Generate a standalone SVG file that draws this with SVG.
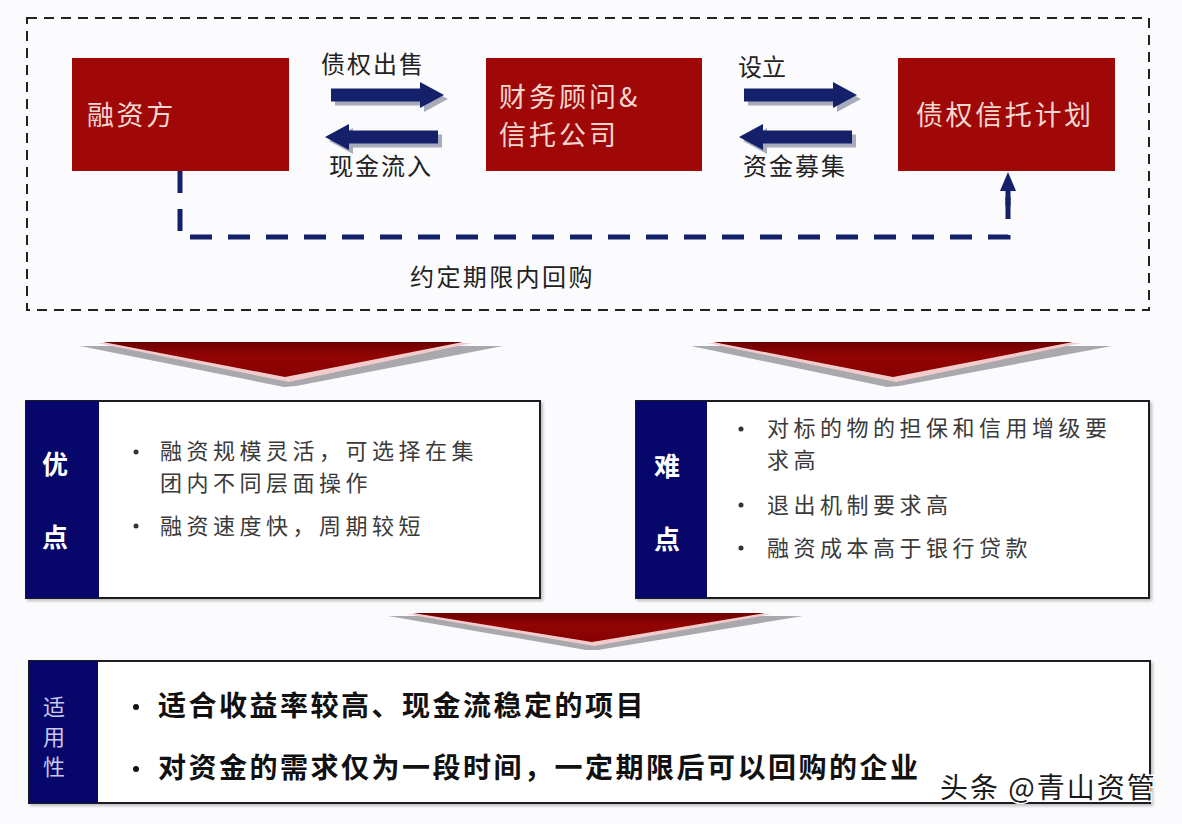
<svg xmlns="http://www.w3.org/2000/svg" width="1182" height="824" viewBox="0 0 1182 824">
<style>
text{font-family:"Noto Sans CJK SC","Noto Sans",sans-serif}
.box{fill:#a00808}
.bt{fill:#f3d8d2;font-size:27px;letter-spacing:2.6px}
.lbl{fill:#222;font-size:24px;letter-spacing:2px}
.nav{fill:#14206a}
.sh{fill:#a8acba}
.panel{fill:#fff;stroke:#1c1c24;stroke-width:2}
.band{fill:#07076b}
.hd{fill:#fff;font-size:26px;font-weight:bold;text-anchor:middle}
.it{fill:#3a3a3a;font-size:22px;letter-spacing:4.5px}
.bi{fill:#111;font-size:28px;font-weight:bold;letter-spacing:2.5px}
.dot{fill:#333}
.sy{fill:#c8c8f0;font-size:22px;text-anchor:middle}
</style>
<defs>
<path id="ra" d="M0,-6.5 H89 V-13 L113,0 L89,13 V6.5 H0 Z"/>
<linearGradient id="rg" x1="0" y1="0" x2="0" y2="1">
<stop offset="0" stop-color="#6e0000"/><stop offset="0.4" stop-color="#920404"/><stop offset="1" stop-color="#880000"/>
</linearGradient>
<filter id="ds" x="-5%" y="-5%" width="110%" height="115%"><feDropShadow dx="2" dy="2" stdDeviation="1.5" flood-color="#000" flood-opacity="0.25"/></filter>
</defs>
<rect width="1182" height="824" fill="#fbfbfd"/>
<rect x="27" y="18" width="1122" height="292" fill="none" stroke="#222" stroke-width="2" stroke-dasharray="10 7"/>

<g id="n-rongzifang">
<rect class="box" x="72" y="58" width="217" height="113"/>
<text class="bt" x="87" y="125">融资方</text>
</g>
<g id="n-caiwuguwen">
<rect class="box" x="486" y="58" width="216" height="113"/>
<text class="bt" style="letter-spacing:3px"><tspan x="499" y="107">财务顾问&amp;</tspan><tspan x="499" y="145">信托公司</tspan></text>
</g>
<g id="n-zhaiquanxintuo">
<rect class="box" x="898" y="58" width="217" height="113"/>
<text class="bt" x="916" y="125">债权信托计划</text>
</g>

<g id="connectors">
<use href="#ra" class="sh" transform="translate(335,99)"/>
<use href="#ra" class="nav" transform="translate(331,95)"/>
<use href="#ra" class="sh" transform="translate(442,141) scale(-1,1)"/>
<use href="#ra" class="nav" transform="translate(438,137) scale(-1,1)"/>
<use href="#ra" class="sh" transform="translate(748,99)"/>
<use href="#ra" class="nav" transform="translate(744,95)"/>
<use href="#ra" class="sh" transform="translate(856,141) scale(-1,1)"/>
<use href="#ra" class="nav" transform="translate(852,137) scale(-1,1)"/>
<path d="M180,171 V237 H1008 V188" fill="none" stroke="#14206a" stroke-width="5" stroke-dasharray="22 16"/>
<path d="M1008,206 V188" fill="none" stroke="#14206a" stroke-width="5"/>
<polygon points="1008,172 1000,191 1016,191" fill="#14206a"/>
</g>

<g id="labels">
<text class="lbl" x="321" y="73">债权出售</text>
<text class="lbl" x="329" y="175">现金流入</text>
<text class="lbl" x="738" y="76" style="letter-spacing:0">设立</text>
<text class="lbl" x="743" y="175">资金募集</text>
<text class="lbl" x="410" y="286" style="letter-spacing:2.4px">约定期限内回购</text>
</g>

<g id="chevrons">
<polygon points="80,346 503,346 296,386 284,387" fill="#a9a9ad"/>
<polygon points="97,343 472,343 289,382" fill="#f2cccc"/>
<polygon points="103,342 463,342 285,377" fill="url(#rg)"/>
<polygon points="691,346 1112,346 899,386 887,387" fill="#a9a9ad"/>
<polygon points="707,343 1081,343 896,382" fill="#f2cccc"/>
<polygon points="713,342 1073,342 893,377" fill="url(#rg)"/>
<polygon points="388,616 803,616 598,650 586,650" fill="#a9a9ad"/>
<polygon points="406,614 772,614 594,646" fill="#f2cccc"/>
<polygon points="413,613 765,613 592,642" fill="url(#rg)"/>
</g>

<g id="n-youdian">
<rect class="panel" x="26" y="401" width="514" height="197" filter="url(#ds)"/>
<rect class="band" x="26" y="401" width="73" height="197"/>
<text class="hd" x="55" y="474">优</text>
<text class="hd" x="55" y="547">点</text>
<circle class="dot" cx="136" cy="452" r="2.5"/>
<text class="it"><tspan x="160" y="459">融资规模灵活，可选择在集</tspan><tspan x="160" y="491">团内不同层面操作</tspan></text>
<circle class="dot" cx="136" cy="526" r="2.5"/>
<text class="it" x="160" y="534">融资速度快，周期较短</text>
</g>

<g id="n-nandian">
<rect class="panel" x="636" y="401" width="513" height="197" filter="url(#ds)"/>
<rect class="band" x="636" y="401" width="71" height="197"/>
<text class="hd" x="667" y="476">难</text>
<text class="hd" x="667" y="549">点</text>
<circle class="dot" cx="741" cy="429" r="2.5"/>
<text class="it"><tspan x="767" y="436">对标的物的担保和信用增级要</tspan><tspan x="767" y="468">求高</tspan></text>
<circle class="dot" cx="741" cy="505" r="2.5"/>
<text class="it" x="767" y="513">退出机制要求高</text>
<circle class="dot" cx="741" cy="548" r="2.5"/>
<text class="it" x="767" y="556">融资成本高于银行贷款</text>
</g>

<g id="n-shiyongxing">
<rect class="panel" x="29" y="661" width="1121" height="142" filter="url(#ds)"/>
<rect class="band" x="29" y="661" width="69" height="142"/>
<text class="sy" x="54" y="715">适</text>
<text class="sy" x="54" y="745">用</text>
<text class="sy" x="54" y="775">性</text>
<circle cx="136" cy="707" r="3" fill="#111"/>
<text class="bi" x="158" y="716">适合收益率较高、现金流稳定的项目</text>
<circle cx="136" cy="769" r="3" fill="#111"/>
<text class="bi" x="158" y="778">对资金的需求仅为一段时间，一定期限后可以回购的企业</text>
</g>

<text x="940" y="798" style="fill:#1a1a1a;font-size:28px;letter-spacing:2px;stroke:#fff;stroke-width:3px;paint-order:stroke">头条 @青山资管</text>
</svg>
